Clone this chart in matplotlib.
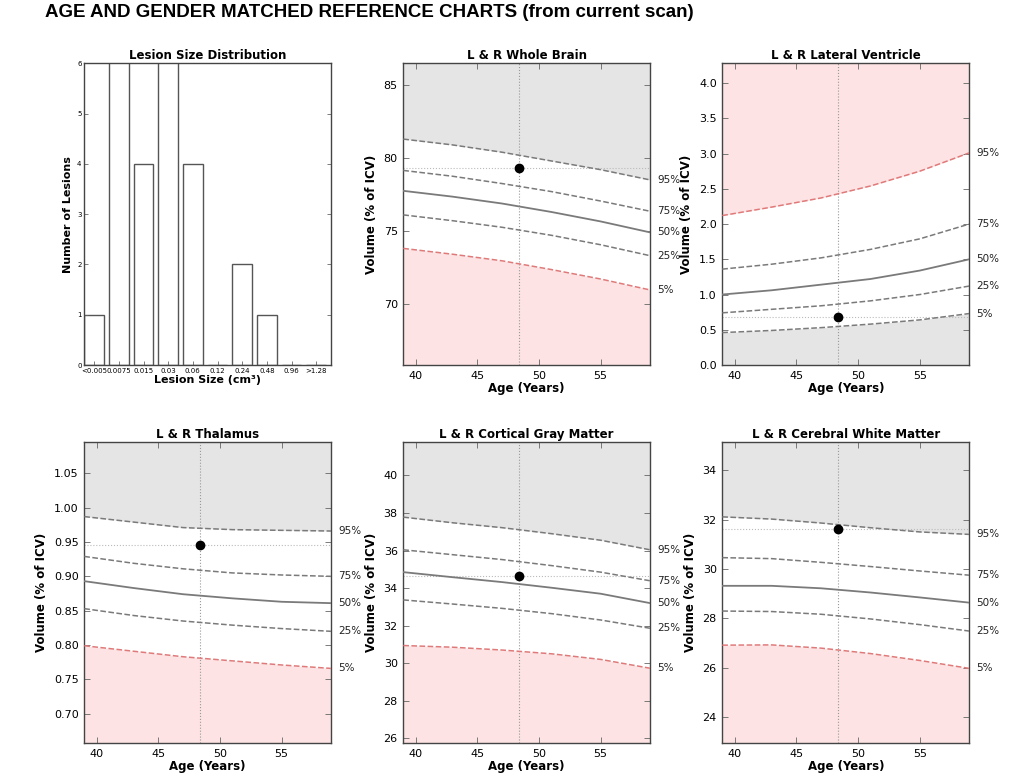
import matplotlib
matplotlib.use('Agg')
import matplotlib.pyplot as plt
from matplotlib import font_manager

W, H = 1024, 779
fig = plt.figure(figsize=(W / 100, H / 100), dpi=100)
plt.rcParams['font.family'] = ['DejaVu Sans']

# ---------------- data ----------------
lesion_bins = ['<0.005', '0.0075', '0.015', '0.03', '0.06', '0.12', '0.24', '0.48', '0.96', '>1.28']
lesion_counts = [1, 7, 4, 7, 4, 0, 2, 1, 0, 0]

ages = [39, 43, 47, 51, 55, 59]
pct_labels = ['95%', '75%', '50%', '25%', '5%']
subject_age = 48.4

wb_p95 = [81.3, 80.9, 80.4, 79.8, 79.2, 78.5]
wb_p75 = [79.15, 78.75, 78.25, 77.7, 77.05, 76.35]
wb_p50 = [77.75, 77.35, 76.88, 76.3, 75.65, 74.9]
wb_p25 = [76.1, 75.7, 75.25, 74.7, 74.05, 73.3]
wb_p05 = [73.8, 73.4, 72.95, 72.35, 71.7, 70.95]
wb_subject = 79.35

lv_p95 = [2.12, 2.24, 2.37, 2.54, 2.75, 3.01]
lv_p75 = [1.36, 1.43, 1.52, 1.64, 1.79, 2.00]
lv_p50 = [1.00, 1.06, 1.14, 1.22, 1.34, 1.50]
lv_p25 = [0.74, 0.79, 0.84, 0.91, 1.00, 1.12]
lv_p05 = [0.46, 0.49, 0.53, 0.58, 0.64, 0.73]
lv_subject = 0.68

th_p95 = [0.987, 0.979, 0.971, 0.968, 0.967, 0.966]
th_p75 = [0.929, 0.919, 0.911, 0.905, 0.902, 0.900]
th_p50 = [0.893, 0.883, 0.874, 0.868, 0.863, 0.861]
th_p25 = [0.853, 0.843, 0.835, 0.829, 0.824, 0.820]
th_p05 = [0.799, 0.791, 0.783, 0.777, 0.771, 0.766]
th_subject = 0.945

gm_p95 = [37.78, 37.48, 37.22, 36.9, 36.55, 36.04]
gm_p75 = [36.04, 35.78, 35.52, 35.2, 34.85, 34.39]
gm_p50 = [34.85, 34.58, 34.32, 34.02, 33.7, 33.2]
gm_p25 = [33.37, 33.15, 32.92, 32.64, 32.3, 31.86]
gm_p05 = [30.94, 30.85, 30.7, 30.5, 30.2, 29.73]
gm_subject = 34.67

wm_p95 = [32.11, 32.02, 31.86, 31.67, 31.5, 31.4]
wm_p75 = [30.46, 30.42, 30.27, 30.1, 29.92, 29.75]
wm_p50 = [29.32, 29.32, 29.22, 29.05, 28.85, 28.64]
wm_p25 = [28.3, 28.28, 28.17, 27.98, 27.75, 27.49]
wm_p05 = [26.92, 26.93, 26.8, 26.58, 26.3, 25.98]
wm_subject = 31.6

# ---------------- style ----------------
GRAY_FILL = '#e5e5e5'
PINK_FILL = '#fde3e3'
LINE_GRAY = '#7a7a7a'
LINE_RED = '#e07a7a'
SPINE = '#444444'


def px_axes(left, top, right, bottom):
    return fig.add_axes([left / W, 1 - bottom / H, (right - left) / W, (bottom - top) / H])


def style_axes(ax):
    for s in ax.spines.values():
        s.set_color(SPINE)
        s.set_linewidth(1.0)
    ax.tick_params(direction='in', top=True, right=True, length=4, width=0.6,
                   color='#666666', labelsize=8, pad=4)


# ---------------- lesion histogram ----------------
ax0 = px_axes(84.3, 63.3, 331, 365)
x_idx = list(range(len(lesion_bins)))
ax0.bar(x_idx, lesion_counts, width=0.8, align='edge', facecolor='white',
        edgecolor='#555555', linewidth=1.0)
ax0.set_xlim(0, len(lesion_bins))
ax0.set_ylim(0, 6)
ax0.set_xticks([i + 0.4 for i in x_idx])
ax0.set_xticklabels(lesion_bins)
ax0.set_yticks(range(0, 7))
style_axes(ax0)
ax0.tick_params(labelsize=5, pad=2, length=3, top=False)
ax0.set_title('Lesion Size Distribution', fontsize=8.5, fontweight='bold', pad=3)
ax0.set_xlabel('Lesion Size (cm³)', fontsize=8, fontweight='bold', labelpad=1)
ax0.set_ylabel('Number of Lesions', fontsize=8, fontweight='bold', labelpad=3)

# ---------------- reference charts ----------------
panels = [
    dict(box=(403.3, 63.3, 650, 365), title='L & R Whole Brain',
         curves=[wb_p95, wb_p75, wb_p50, wb_p25, wb_p05], subj=wb_subject,
         ylim=(65.8, 86.5), yticks=[70, 75, 80, 85], fmt='{:.0f}', high_bad=False),
    dict(box=(722.3, 63.3, 969.3, 365), title='L & R Lateral Ventricle',
         curves=[lv_p95, lv_p75, lv_p50, lv_p25, lv_p05], subj=lv_subject,
         ylim=(0.0, 4.28), yticks=[0.0, 0.5, 1.0, 1.5, 2.0, 2.5, 3.0, 3.5, 4.0], fmt='{:.1f}', high_bad=True),
    dict(box=(84.3, 441.7, 331, 743.3), title='L & R Thalamus',
         curves=[th_p95, th_p75, th_p50, th_p25, th_p05], subj=th_subject,
         ylim=(0.657, 1.096), yticks=[0.70, 0.75, 0.80, 0.85, 0.90, 0.95, 1.00, 1.05], fmt='{:.2f}', high_bad=False),
    dict(box=(403.3, 441.7, 650, 743.3), title='L & R Cortical Gray Matter',
         curves=[gm_p95, gm_p75, gm_p50, gm_p25, gm_p05], subj=gm_subject,
         ylim=(25.73, 41.8), yticks=[26, 28, 30, 32, 34, 36, 38, 40], fmt='{:.0f}', high_bad=False),
    dict(box=(722.3, 441.7, 969.3, 743.3), title='L & R Cerebral White Matter',
         curves=[wm_p95, wm_p75, wm_p50, wm_p25, wm_p05], subj=wm_subject,
         ylim=(22.95, 35.15), yticks=[24, 26, 28, 30, 32, 34], fmt='{:.0f}', high_bad=False),
]

for p in panels:
    ax = px_axes(*p['box'])
    p95, p75, p50, p25, p05 = p['curves']
    y0, y1 = p['ylim']
    top_col = PINK_FILL if p['high_bad'] else GRAY_FILL
    bot_col = GRAY_FILL if p['high_bad'] else PINK_FILL
    ax.fill_between(ages, p95, [y1] * len(ages), color=top_col, linewidth=0, zorder=1)
    ax.fill_between(ages, [y0] * len(ages), p05, color=bot_col, linewidth=0, zorder=1)
    c95 = LINE_RED if p['high_bad'] else LINE_GRAY
    c05 = LINE_GRAY if p['high_bad'] else LINE_RED
    ax.plot(ages, p95, ls='--', color=c95, lw=1.1, zorder=3)
    ax.plot(ages, p75, ls='--', color=LINE_GRAY, lw=1.1, zorder=3)
    ax.plot(ages, p50, ls='-', color=LINE_GRAY, lw=1.3, zorder=3)
    ax.plot(ages, p25, ls='--', color=LINE_GRAY, lw=1.1, zorder=3)
    ax.plot(ages, p05, ls='--', color=c05, lw=1.1, zorder=3)
    ax.axvline(subject_age, color='#999999', ls=':', lw=0.8, zorder=2)
    ax.axhline(p['subj'], color='#bbbbbb', ls=':', lw=0.8, zorder=2)
    ax.plot([subject_age], [p['subj']], 'o', color='black', markersize=6, zorder=5)
    for lab, cur in zip(pct_labels, p['curves']):
        ax.annotate(lab, xy=(1, cur[-1]), xycoords=('axes fraction', 'data'),
                    xytext=(5, 0), textcoords='offset points', va='center', ha='left',
                    fontsize=7.5, color='#222222', annotation_clip=False)
    ax.set_xlim(39, 59)
    ax.set_ylim(y0, y1)
    ax.set_xticks([40, 45, 50, 55])
    ax.set_yticks(p['yticks'])
    ax.set_yticklabels([p['fmt'].format(v) for v in p['yticks']])
    style_axes(ax)
    ax.set_title(p['title'], fontsize=8.5, fontweight='bold', pad=3)
    ax.set_xlabel('Age (Years)', fontsize=8.5, fontweight='bold', labelpad=1)
    ax.set_ylabel('Volume (% of ICV)', fontsize=8.5, fontweight='bold', labelpad=4)

# ---------------- main title ----------------
available = {f.name for f in font_manager.fontManager.ttflist}
title_font = 'Liberation Sans' if 'Liberation Sans' in available else 'DejaVu Sans'
t = fig.text(45 / W, 1 - 17 / H, 'AGE AND GENDER MATCHED REFERENCE CHARTS (from current scan)',
             fontsize=12, fontweight='bold', family=title_font, ha='left', va='baseline')
fig.canvas.draw()
bb = t.get_window_extent()
target = 653.0
t.set_fontsize(min(13.5, 12 * target / bb.width))

fig.savefig('out.png', dpi=100)
